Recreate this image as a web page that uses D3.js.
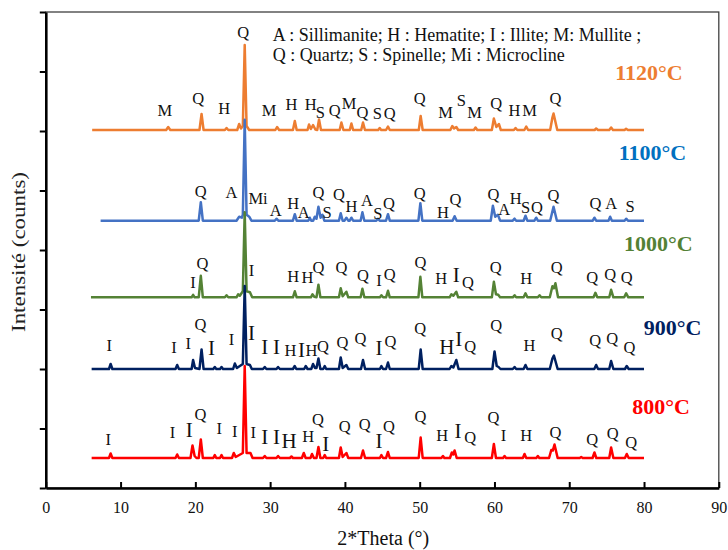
<!DOCTYPE html>
<html>
<head>
<meta charset="utf-8">
<script src="https://cdn.jsdelivr.net/npm/d3@7"></script>
<style>
  html, body { margin: 0; padding: 0; background: #fff; }
  svg { display: block; }
  svg text { font-family: "Liberation Serif", "Times New Roman", serif; }
</style>
</head>
<body>
<svg id="chart" width="728" height="550"></svg>
<script>
// ---------------- DATA ----------------
const xTicks = [0, 10, 20, 30, 40, 50, 60, 70, 80, 90];
const yTicks = [0, 595, 1190, 1785, 2380, 2975, 3570, 4165, 4760];

const seriesNames = ["1120°C", "1100°C", "1000°C", "900°C", "800°C"];
const seriesOffsets = [3580, 2673, 1907, 1190, 300];

// [2theta, intensity above the trace baseline]
const pattern1120 = [[6.2,0],
 [16.1,0],[16.37,30],[16.65,0],
 [20.55,0],[20.83,160],[21.1,0],
 [23.95,0],[24.17,20],[24.4,0],
 [25.6,0],[25.86,60],[26.1,15],[26.35,40],[26.6,850],[26.85,40],[27.2,0],
 [30.7,0],[30.93,30],[31.2,0],
 [33.05,0],[33.3,90],[33.55,0],
 [35.0,0],[35.2,55],[35.45,10],[35.74,50],[36.05,5],[36.3,0],[36.54,105],[36.8,0],
 [39.3,0],[39.53,75],[39.8,0],
 [40.65,0],[40.87,65],[41.1,0],
 [42.18,0],[42.42,75],[42.68,0],
 [44.45,0],[44.65,20],[44.85,0],
 [45.5,0],[45.76,35],[46.0,0],
 [49.88,0],[50.13,140],[50.4,0],
 [54.1,0],[54.36,40],[54.6,15],[54.9,30],[55.15,0],
 [57.25,0],[57.47,25],[57.7,0],
 [59.65,0],[59.92,115],[60.25,30],[60.59,60],[60.85,0],
 [62.6,0],[62.82,20],[63.05,0],
 [64.0,0],[64.25,35],[64.5,0],
 [67.45,0],[67.75,125],[67.9,165],[68.4,0],
 [73.4,0],[73.6,15],[73.85,0],
 [75.35,0],[75.6,25],[75.85,0],
 [77.4,0],[77.6,12],[77.85,0],
 [80,0]];

const pattern1100 = [[7.33,0],
 [20.45,0],[20.73,185],[21.0,0],
 [25.5,0],[25.86,40],[26.2,30],[26.35,60],[26.6,1010],[26.85,60],[27.2,40],[27.5,0],
 [30.62,0],[30.85,20],[31.1,0],
 [33.05,0],[33.3,65],[33.55,0],
 [35.1,0],[35.3,30],[35.5,0],[35.75,0],[35.97,40],[36.2,20],[36.46,140],[36.75,30],[36.99,60],[37.25,0],
 [39.2,0],[39.44,75],[39.7,0],[39.95,0],[40.2,30],[40.45,0],[40.65,0],[40.87,30],[41.1,0],
 [42.1,0],[42.34,85],[42.6,0],
 [44.2,0],[44.42,20],[44.65,0],
 [45.5,0],[45.76,65],[46.0,0],
 [49.83,0],[50.09,175],[50.35,0],
 [54.4,0],[54.67,45],[54.95,0],
 [59.5,0],[59.79,150],[60.1,40],[60.46,60],[60.75,0],
 [62.45,0],[62.69,20],[62.9,0],
 [63.9,0],[64.15,50],[64.4,0],
 [65.35,0],[65.58,30],[65.8,0],
 [67.45,0],[67.9,140],[68.35,0],
 [73.15,0],[73.37,30],[73.6,0],
 [75.25,0],[75.47,40],[75.7,0],
 [77.4,0],[77.61,20],[77.85,0],
 [80,0]];

const pattern1000 = [[6.04,0],
 [19.5,0],[19.7,25],[19.9,0],
 [20.45,0],[20.73,215],[21.0,0],
 [23.95,0],[24.17,20],[24.4,0],
 [25.5,0],[25.72,30],[25.95,15],[26.35,60],[26.6,850],[26.85,60],[27.3,50],[27.6,0],
 [33.05,0],[33.3,60],[33.55,0],
 [35.45,0],[35.66,30],[35.9,5],[36.2,0],[36.46,125],[36.72,0],
 [39.2,0],[39.44,90],[39.7,10],[40.2,55],[40.45,0],
 [42.1,0],[42.34,85],[42.6,0],
 [44.68,0],[44.88,20],[45.1,0],
 [45.5,0],[45.76,65],[46.0,0],
 [49.83,0],[50.09,205],[50.35,0],
 [54.0,0],[54.23,30],[54.5,15],[54.9,55],[55.15,0],
 [59.65,0],[59.92,155],[60.2,30],[60.5,25],[60.75,0],
 [62.45,0],[62.69,20],[62.9,0],
 [63.9,0],[64.15,40],[64.4,0],
 [65.8,0],[66.03,20],[66.25,0],
 [67.4,0],[67.75,110],[67.95,90],[68.15,140],[68.5,0],
 [73.25,0],[73.5,45],[73.75,0],
 [75.35,0],[75.6,75],[75.9,0],
 [77.35,0],[77.61,40],[77.9,0],
 [80,0]];

const pattern900 = [[6.13,0],
 [8.45,0],[8.67,50],[8.9,0],
 [17.35,0],[17.57,40],[17.8,0],
 [19.5,0],[19.7,90],[19.95,10],[20.55,0],[20.83,195],[21.1,0],
 [22.4,0],[22.6,20],[22.8,0],[23.3,0],[23.5,20],[23.7,0],
 [25.05,0],[25.28,55],[25.55,10],[26.35,50],[26.6,830],[26.85,50],[27.3,40],[27.55,0],
 [29.05,0],[29.28,20],[29.5,0],
 [30.85,0],[31.06,20],[31.3,0],
 [33.05,0],[33.29,30],[33.5,0],
 [34.55,0],[34.76,30],[35.0,0],[35.5,0],[35.74,50],[36.0,10],[36.2,10],[36.46,105],[36.72,0],[37.1,0],[37.3,30],[37.5,0],
 [39.2,0],[39.44,115],[39.7,10],[40.2,40],[40.45,0],
 [42.15,0],[42.42,90],[42.7,0],
 [44.68,0],[44.88,30],[45.1,0],
 [45.5,0],[45.76,65],[46.0,0],
 [49.87,0],[50.13,195],[50.4,0],
 [54.0,0],[54.23,30],[54.5,15],[54.9,90],[55.2,0],
 [59.72,0],[60.01,175],[60.3,30],[60.55,20],[60.8,0],
 [62.45,0],[62.69,20],[62.9,0],
 [63.9,0],[64.15,40],[64.4,0],
 [67.4,0],[67.75,105],[67.95,135],[68.45,0],
 [73.35,0],[73.6,40],[73.85,0],
 [75.35,0],[75.6,80],[75.9,0],
 [77.45,0],[77.69,30],[77.95,0],
 [80,0]];

const pattern800 = [[6.13,0],
 [8.45,0],[8.67,45],[8.9,0],
 [17.35,0],[17.57,35],[17.8,0],
 [19.35,0],[19.62,125],[19.9,20],[20.15,0],[20.45,0],[20.73,185],[21.0,0],
 [22.4,0],[22.6,30],[22.8,0],[23.3,0],[23.5,30],[23.7,0],
 [24.9,0],[25.14,50],[25.4,10],[26.35,50],[26.6,920],[26.85,50],[27.37,50],[27.65,0],
 [29.05,0],[29.28,20],[29.5,0],
 [30.85,0],[31.06,20],[31.3,0],
 [32.65,0],[32.85,15],[33.05,0],
 [34.25,0],[34.5,50],[34.75,0],
 [35.4,0],[35.6,40],[35.85,0],
 [36.2,0],[36.46,110],[36.72,0],
 [37.1,0],[37.3,30],[37.5,0],
 [39.2,0],[39.44,105],[39.7,10],[40.2,50],[40.45,0],
 [42.15,0],[42.42,75],[42.7,0],
 [44.68,0],[44.88,30],[45.1,0],
 [45.5,0],[45.76,60],[46.0,0],
 [49.87,0],[50.13,205],[50.4,0],
 [52.9,0],[53.11,20],[53.3,0],
 [54.05,0],[54.3,55],[54.5,35],[54.67,75],[54.95,0],
 [59.65,0],[59.92,140],[60.2,0],
 [61.15,0],[61.35,20],[61.55,0],
 [63.8,0],[64.02,40],[64.25,0],
 [65.6,0],[65.8,20],[66.0,0],
 [67.3,0],[67.6,80],[67.8,75],[68.03,135],[68.45,0],
 [71.4,0],[71.6,10],[71.8,0],
 [73.12,0],[73.37,55],[73.62,0],
 [75.35,0],[75.6,105],[75.9,0],
 [77.45,0],[77.69,40],[77.95,0],
 [80,0]];

// phase labels: [text, 2theta, intensity (absolute), large?]
const labels1120 = [["M",15.93,3780],["Q",20.38,3897],["H",23.85,3803],["Q",26.39,4563],["M",29.86,3780],["H",32.85,3840],["H",35.43,3840],["S",36.73,3763],["Q",38.64,3780],["M",40.55,3847],["Q",42.34,3763],["S",44.34,3747],["Q",45.99,3747],["Q",49.99,3897],["M",53.47,3763],["S",55.56,3880],["M",57.34,3763],["Q",60.24,3847],["H",62.69,3780],["M",64.69,3780],["Q",68.16,3897]];
const labels1100 = [["Q",20.73,2973],["A",24.83,2963],["Mi",28.39,2897],["A",30.75,2780],["H",33.07,2853],["A",34.5,2763],["Q",36.46,2963],["S",37.61,2763],["Q",39.22,2940],["H",40.87,2820],["A",42.95,2880],["S",44.42,2753],["Q",45.89,2853],["Q",49.99,2953],["H",53.11,2763],["Q",54.8,2887],["Q",59.88,2940],["A",61.3,2787],["H",62.85,2897],["S",64.15,2807],["Q",65.67,2807],["Q",67.9,2930],["Q",73.51,2847],["A",75.6,2847],["S",78.14,2820]];
const labels1000 = [["I",19.7,2063],["Q",20.96,2247],["I",27.5,2180],["H",33.07,2120],["H",34.99,2107],["Q",36.46,2207],["Q",39.53,2213],["Q",42.42,2130],["I",44.56,2080],["Q",45.99,2140],["Q",50.09,2263],["H",52.89,2097],["I",54.9,2140,1],["Q",56.45,2063],["Q",60.15,2213],["H",64.25,2097],["Q",68.34,2213],["Q",73.07,2113],["Q",75.47,2140],["Q",77.69,2107]];
const labels900 = [["I",8.49,1430],["I",17.13,1413],["I",19.04,1453],["Q",20.69,1640],["I",22.16,1407,1],["I",24.83,1487],["I",27.5,1553,1],["I",29.28,1420,1],["I",30.84,1420,1],["H",32.71,1380],["I",34.18,1387,1],["H",35.52,1380],["Q",37.08,1420],["Q",39.66,1463],["Q",42.07,1497],["I",44.56,1407,1],["Q",46.08,1473],["Q",50.06,1597],["H",53.64,1413,1],["I",55.24,1497,1],["Q",56.77,1420],["Q",60.24,1630],["H",64.69,1430],["Q",68.34,1547],["Q",73.48,1480],["Q",75.74,1497],["Q",78.05,1413]];
const labels800 = [["I",8.35,487],["I",16.95,563],["I",19.17,587,1],["Q",20.69,740],["I",23.18,597],["I",25.28,573],["I",27.73,563],["I",29.28,513,1],["I",30.84,513,1],["H",32.54,473,1],["H",35.08,520],["Q",36.41,687],["I",37.44,447,1],["Q",39.97,620],["Q",42.65,640],["I",44.56,480,1],["Q",45.89,620],["Q",50.09,720],["H",53.02,530],["I",55.11,573,1],["Q",56.77,513],["Q",59.88,713],["I",61.21,530],["H",64.25,530],["Q",68.16,563],["Q",73.07,487],["Q",75.82,553],["Q",78.28,463]];

// temperature tags: [2theta, intensity]
const tempTagPos = [[80.65,4160],[81.12,3360],[81.92,2453],[83.83,1613],[82.28,820]];

const legendLines = ["A : Sillimanite; H : Hematite; I : Illite; M: Mullite ;",
                     "Q : Quartz; S : Spinelle; Mi : Microcline"];
const legendPos = [[30.35,4530],[30.35,4330]];

const xTitle = "2*Theta (°)";
const yTitle = "Intensité (counts)";

// ---------------- STYLE ----------------
const lineColors = ["#ED7D31", "#4472C4", "#548235", "#002060", "#FF0000"];
const tagColors  = ["#ED7D31", "#0070C0", "#538135", "#002060", "#FF0000"];
const FONT = "'Liberation Serif', 'Times New Roman', serif";

// ---------------- DRAW ----------------
const svg = d3.select("#chart");
const x = d3.scaleLinear().domain([0, 90]).range([45.8, 718.8]);
const y = d3.scaleLinear().domain([0, 4760]).range([488, 12]);

// frame (top/right)
svg.append("rect").attr("x", x(0)).attr("y", y(4760))
  .attr("width", x(90) - x(0)).attr("height", y(0) - y(4760))
  .attr("fill", "none").attr("stroke", "#404040").attr("stroke-width", 1.3);

const patterns = [pattern1120, pattern1100, pattern1000, pattern900, pattern800];
const labelSets = [labels1120, labels1100, labels1000, labels900, labels800];

const line = d3.line().x(d => x(d[0])).y(d => y(d[1]));

patterns.forEach((p, i) => {
  const off = seriesOffsets[i];
  svg.append("path")
    .datum(p.map(d => [d[0], d[1] + off]))
    .attr("d", line)
    .attr("fill", "none")
    .attr("stroke", lineColors[i])
    .attr("stroke-width", 2.5)
    .attr("stroke-linejoin", "round");
});

labelSets.forEach(set => {
  svg.append("g").selectAll("text").data(set).enter().append("text")
    .attr("x", d => x(d[1])).attr("y", d => y(d[2]))
    .attr("dy", "0.36em")
    .attr("text-anchor", "middle")
    .attr("font-family", FONT)
    .attr("font-size", d => d[3] ? 21 : 16.5)
    .attr("fill", "#111")
    .text(d => d[0]);
});

seriesNames.forEach((n, i) => {
  svg.append("text")
    .attr("x", x(tempTagPos[i][0])).attr("y", y(tempTagPos[i][1]))
    .attr("dy", "0.36em").attr("text-anchor", "middle")
    .attr("font-family", FONT)
    .attr("font-size", 22).attr("font-weight", "bold")
    .attr("fill", tagColors[i]).text(n);
});

legendLines.forEach((t, i) => {
  svg.append("text")
    .attr("x", x(legendPos[i][0])).attr("y", y(legendPos[i][1]))
    .attr("dy", "0.36em").attr("font-family", FONT)
    .attr("font-size", 18).attr("fill", "#111").text(t);
});

// axes
const xAxis = d3.axisBottom(x).tickValues(xTicks).tickSizeInner(-6).tickSizeOuter(0).tickPadding(14);
const gx = svg.append("g").attr("transform", `translate(0,${y(0)})`).call(xAxis)
  .attr("font-family", FONT);
gx.select(".domain").attr("stroke", "#000").attr("stroke-width", 2.6);
gx.selectAll(".tick line").attr("stroke", "#000").attr("stroke-width", 2);
gx.selectAll("text").attr("font-size", 16).attr("font-family", FONT).attr("fill", "#111");

const yAxis = d3.axisLeft(y).tickValues(yTicks).tickSizeInner(6).tickSizeOuter(0).tickFormat("");
const gy = svg.append("g").attr("transform", `translate(${x(0)},0)`).call(yAxis);
gy.select(".domain").attr("stroke", "#000").attr("stroke-width", 2.6);
gy.selectAll(".tick line").attr("stroke", "#000").attr("stroke-width", 2);

svg.append("text").attr("x", (x(0) + x(90)) / 2 + 1).attr("y", 538).attr("dy", "0.36em")
  .attr("text-anchor", "middle").attr("font-family", FONT)
  .attr("font-size", 20).attr("fill", "#111").text(xTitle);

svg.append("text").attr("transform", `translate(19,252) rotate(-90)`)
  .attr("dy", "0.36em").attr("text-anchor", "middle").attr("font-family", FONT)
  .attr("font-size", 18).attr("fill", "#222")
  .attr("textLength", 160).attr("lengthAdjust", "spacingAndGlyphs")
  .text(yTitle);
</script>
</body>
</html>
